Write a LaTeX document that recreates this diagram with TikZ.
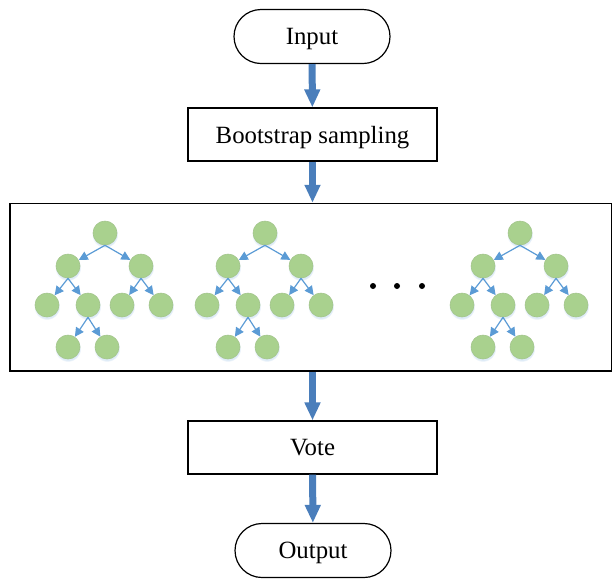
\documentclass[tikz,border=0pt]{standalone}
\usepackage{fontspec}
\setmainfont{Liberation Serif}
\usetikzlibrary{arrows.meta,shadows}
\definecolor{flowblue}{RGB}{74,126,187}
\definecolor{treeblue}{RGB}{91,155,213}
\definecolor{leafgreen}{RGB}{169,209,142}
\begin{document}
\begin{tikzpicture}[x=0.5pt,y=-0.5pt,
    terminal/.style={draw,line width=0.6pt,rounded corners=13.5pt,minimum width=78pt,minimum height=27pt,text depth=0pt,font=\fontsize{12.4}{14}\selectfont},
    process/.style={draw,line width=0.6pt,minimum width=124.5pt,minimum height=26.5pt,text depth=0pt,font=\fontsize{12.4}{14}\selectfont},
    bigarrow/.style={flowblue,line width=3.5pt,-{Triangle[width=7.5pt,length=9pt]}},
    leaf/.style={circle,fill=leafgreen,draw=leafgreen!85!gray,line width=0.3pt,minimum size=12pt,inner sep=0pt,
        circular drop shadow={shadow xshift=0pt,shadow yshift=-0.8pt,fill=treeblue,opacity=0.2}},
    branch/.style={treeblue,line width=0.6pt,-{Triangle[width=4.5pt,length=4.5pt]}}]
\useasboundingbox (0,0) rectangle (613,579);
\node[terminal] (in) at (312,36.5) {Input};
\node[process] (boot) at (312.5,134.5) {Bootstrap sampling};
\node[draw,line width=0.75pt,minimum width=300.75pt,minimum height=83.75pt] (forest) at (310.75,287.25) {};
\node[process] (vote) at (312.5,447.5) {Vote};
\node[terminal] (out) at (313,550.5) {Output};
\draw[bigarrow] (in) -- (boot);
\draw[bigarrow] (boot.south) -- (boot.south |- forest.north);
\draw[bigarrow] (vote.north |- forest.south) -- (vote.north);
\draw[bigarrow] (vote) -- (out);
\foreach \t/\dx in {a/0,b/160,c/415}{
  \node[leaf] (\t0) at (105+\dx,233) {};
  \node[leaf] (\t1) at (68+\dx,266) {};
  \node[leaf] (\t2) at (141+\dx,266) {};
  \node[leaf] (\t3) at (47+\dx,305) {};
  \node[leaf] (\t4) at (88+\dx,305) {};
  \node[leaf] (\t5) at (122+\dx,305) {};
  \node[leaf] (\t6) at (161+\dx,305) {};
  \node[leaf] (\t7) at (68+\dx,347) {};
  \node[leaf] (\t8) at (107+\dx,347) {};
  \foreach \p/\c in {0/1,0/2,1/3,1/4,2/5,2/6,4/7,4/8}
    \draw[branch] (\t\p.south) -- (\t\c);
}
\foreach \x [count=\i] in {373,397,422}
  \node[circle,fill,inner sep=0pt,minimum size=3pt] (dot\i) at (\x,286) {};
\end{tikzpicture}
\end{document}
